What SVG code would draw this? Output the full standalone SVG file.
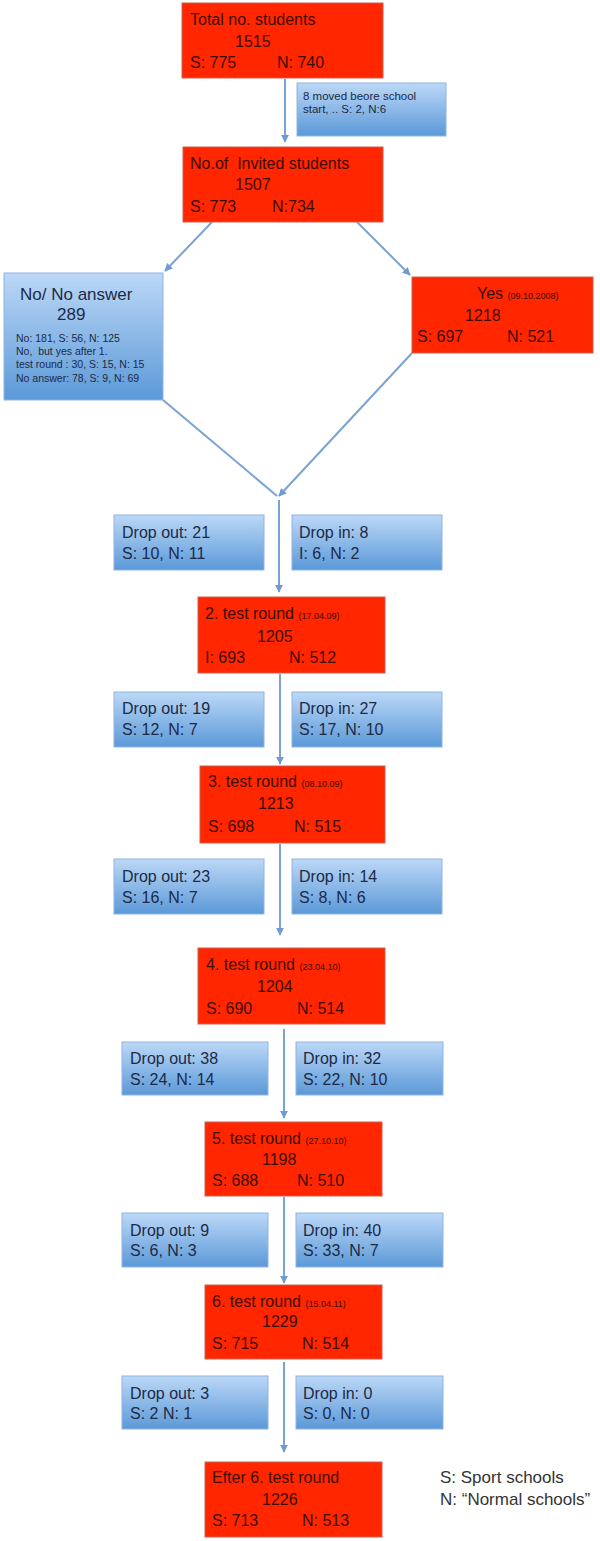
<svg xmlns="http://www.w3.org/2000/svg" width="600" height="1541" viewBox="0 0 600 1541">
<defs>
<linearGradient id="bg" x1="0" y1="0" x2="0" y2="1">
<stop offset="0" stop-color="#bcd8f7"/>
<stop offset="1" stop-color="#5b99d8"/>
</linearGradient>
<marker id="ah" viewBox="0 0 10 10" refX="9" refY="5" markerWidth="4" markerHeight="4" orient="auto" markerUnits="strokeWidth">
<path d="M0,0 L10,5 L0,10 z" fill="#6f9bd0"/>
</marker>
<style>
text{white-space:pre}
.red{fill:#ff2600;stroke:#c9604f;stroke-width:1}
.blue{fill:url(#bg);stroke:#8fb4e0;stroke-width:1}
.rt{font-family:"Liberation Sans",Arial,sans-serif;font-size:16px;fill:#3d0d05}
.rd{font-family:"Liberation Sans",Arial,sans-serif;font-size:9px;fill:#3d0d05}
.bt{font-family:"Liberation Sans",Arial,sans-serif;font-size:16px;fill:#1d2a45}
.bs{font-family:"Liberation Sans",Arial,sans-serif;font-size:11.5px;fill:#1d2a45}
.lg{font-family:"Liberation Sans",Arial,sans-serif;font-size:17px;fill:#333}
.c{fill:none;stroke:#7aa3d3;stroke-width:2}
</style>
</defs>

<g id="connectors">
<path class="c" d="M285,79 V142" marker-end="url(#ah)"/>
<path class="c" d="M212,222 L165,271" marker-end="url(#ah)"/>
<path class="c" d="M357,222 L410,275" marker-end="url(#ah)"/>
<path class="c" d="M163,400 L277,496"/>
<path class="c" d="M412,353 L279,496" marker-end="url(#ah)"/>
<path class="c" d="M279,500 V592" marker-end="url(#ah)"/>
<path class="c" d="M280,674 V764" marker-end="url(#ah)"/>
<path class="c" d="M280,844 V935" marker-end="url(#ah)"/>
<path class="c" d="M284,1029 V1118" marker-end="url(#ah)"/>
<path class="c" d="M284,1197 V1283" marker-end="url(#ah)"/>
<path class="c" d="M284,1362 V1452" marker-end="url(#ah)"/>
</g>

<g id="total">
<rect class="red" x="182" y="3" width="201" height="75"/>
<text class="rt" x="190" y="25">Total no. students</text>
<text class="rt" x="235" y="47">1515</text>
<text class="rt" x="190" y="68">S: 775</text>
<text class="rt" x="277" y="68">N: 740</text>
</g>

<g id="moved">
<rect class="blue" x="297" y="83" width="149" height="53"/>
<text class="bs" x="303" y="100">8 moved beore school</text>
<text class="bs" x="303" y="113">start, .. S: 2, N:6</text>
</g>

<g id="invited">
<rect class="red" x="183" y="147" width="200" height="75"/>
<text class="rt" x="190" y="169" xml:space="preserve">No.of  Invited students</text>
<text class="rt" x="235" y="190">1507</text>
<text class="rt" x="190" y="212">S: 773</text>
<text class="rt" x="272" y="212">N:734</text>
</g>

<g id="no">
<rect class="blue" x="4" y="273" width="159" height="127"/>
<text class="bt" x="20" y="300" style="font-size:17px">No/ No answer</text>
<text class="bt" x="57" y="320" style="font-size:17px">289</text>
<text class="bs" x="16" y="342" style="font-size:10.5px">No: 181, S: 56, N: 125</text>
<text class="bs" x="16" y="355" style="font-size:10.5px" xml:space="preserve">No,  but yes after 1.</text>
<text class="bs" x="16" y="368" style="font-size:10.5px">test round : 30, S: 15, N: 15</text>
<text class="bs" x="16" y="382" style="font-size:10.5px">No answer: 78, S: 9, N: 69</text>
</g>

<g id="yes">
<rect class="red" x="412" y="277" width="181" height="76"/>
<text class="rt" x="477" y="299">Yes <tspan class="rd">(09.10.2008)</tspan></text>
<text class="rt" x="465" y="321">1218</text>
<text class="rt" x="417" y="342">S: 697</text>
<text class="rt" x="507" y="342">N: 521</text>
</g>

<g id="out1">
<rect class="blue" x="114" y="515" width="150" height="55"/>
<text class="bt" x="122" y="538">Drop out: 21</text>
<text class="bt" x="122" y="559">S: 10, N: 11</text>
</g>
<g id="in1">
<rect class="blue" x="292" y="515" width="150" height="55"/>
<text class="bt" x="299" y="538">Drop in: 8</text>
<text class="bt" x="299" y="559">I: 6, N: 2</text>
</g>

<g id="round2">
<rect class="red" x="198" y="597" width="187" height="76"/>
<text class="rt" x="205" y="619">2. test round <tspan class="rd">(17.04.09)</tspan></text>
<text class="rt" x="257" y="642">1205</text>
<text class="rt" x="205" y="663">I: 693</text>
<text class="rt" x="289" y="663">N: 512</text>
</g>

<g id="out2">
<rect class="blue" x="114" y="692" width="150" height="55"/>
<text class="bt" x="122" y="714">Drop out: 19</text>
<text class="bt" x="122" y="735">S: 12, N: 7</text>
</g>
<g id="in2">
<rect class="blue" x="292" y="692" width="150" height="55"/>
<text class="bt" x="299" y="714">Drop in: 27</text>
<text class="bt" x="299" y="735">S: 17, N: 10</text>
</g>

<g id="round3">
<rect class="red" x="200" y="766" width="185" height="77"/>
<text class="rt" x="208" y="787">3. test round <tspan class="rd">(08.10.09)</tspan></text>
<text class="rt" x="258" y="809">1213</text>
<text class="rt" x="208" y="832">S: 698</text>
<text class="rt" x="294" y="832">N: 515</text>
</g>

<g id="out3">
<rect class="blue" x="114" y="859" width="150" height="55"/>
<text class="bt" x="122" y="882">Drop out: 23</text>
<text class="bt" x="122" y="903">S: 16, N: 7</text>
</g>
<g id="in3">
<rect class="blue" x="292" y="859" width="150" height="55"/>
<text class="bt" x="299" y="882">Drop in: 14</text>
<text class="bt" x="299" y="903">S: 8, N: 6</text>
</g>

<g id="round4">
<rect class="red" x="198" y="948" width="187" height="76"/>
<text class="rt" x="206" y="970">4. test round <tspan class="rd">(23.04.10)</tspan></text>
<text class="rt" x="257" y="992">1204</text>
<text class="rt" x="206" y="1014">S: 690</text>
<text class="rt" x="297" y="1014">N: 514</text>
</g>

<g id="out4">
<rect class="blue" x="122" y="1042" width="146" height="53"/>
<text class="bt" x="130" y="1064">Drop out: 38</text>
<text class="bt" x="130" y="1085">S: 24, N: 14</text>
</g>
<g id="in4">
<rect class="blue" x="296" y="1042" width="147" height="53"/>
<text class="bt" x="303" y="1064">Drop in: 32</text>
<text class="bt" x="303" y="1085">S: 22, N: 10</text>
</g>

<g id="round5">
<rect class="red" x="205" y="1122" width="177" height="74"/>
<text class="rt" x="212" y="1144">5. test round <tspan class="rd">(27.10.10)</tspan></text>
<text class="rt" x="262" y="1165">1198</text>
<text class="rt" x="212" y="1186">S: 688</text>
<text class="rt" x="297" y="1186">N: 510</text>
</g>

<g id="out5">
<rect class="blue" x="122" y="1213" width="146" height="54"/>
<text class="bt" x="130" y="1236">Drop out: 9</text>
<text class="bt" x="130" y="1256">S: 6, N: 3</text>
</g>
<g id="in5">
<rect class="blue" x="296" y="1213" width="147" height="54"/>
<text class="bt" x="303" y="1236">Drop in: 40</text>
<text class="bt" x="303" y="1256">S: 33, N: 7</text>
</g>

<g id="round6">
<rect class="red" x="205" y="1285" width="177" height="74"/>
<text class="rt" x="212" y="1307">6. test round <tspan class="rd">(15.04.11)</tspan></text>
<text class="rt" x="262" y="1327">1229</text>
<text class="rt" x="212" y="1349">S: 715</text>
<text class="rt" x="302" y="1349">N: 514</text>
</g>

<g id="out6">
<rect class="blue" x="122" y="1376" width="146" height="53"/>
<text class="bt" x="130" y="1399">Drop out: 3</text>
<text class="bt" x="130" y="1419">S: 2 N: 1</text>
</g>
<g id="in6">
<rect class="blue" x="296" y="1376" width="147" height="53"/>
<text class="bt" x="303" y="1399">Drop in: 0</text>
<text class="bt" x="303" y="1419">S: 0, N: 0</text>
</g>

<g id="after">
<rect class="red" x="205" y="1462" width="177" height="75"/>
<text class="rt" x="212" y="1483">Efter 6. test round</text>
<text class="rt" x="262" y="1505">1226</text>
<text class="rt" x="212" y="1526">S: 713</text>
<text class="rt" x="302" y="1526">N: 513</text>
</g>

<g id="legend">
<text class="lg" x="440" y="1483">S: Sport schools</text>
<text class="lg" x="440" y="1505">N: “Normal schools”</text>
</g>
</svg>
